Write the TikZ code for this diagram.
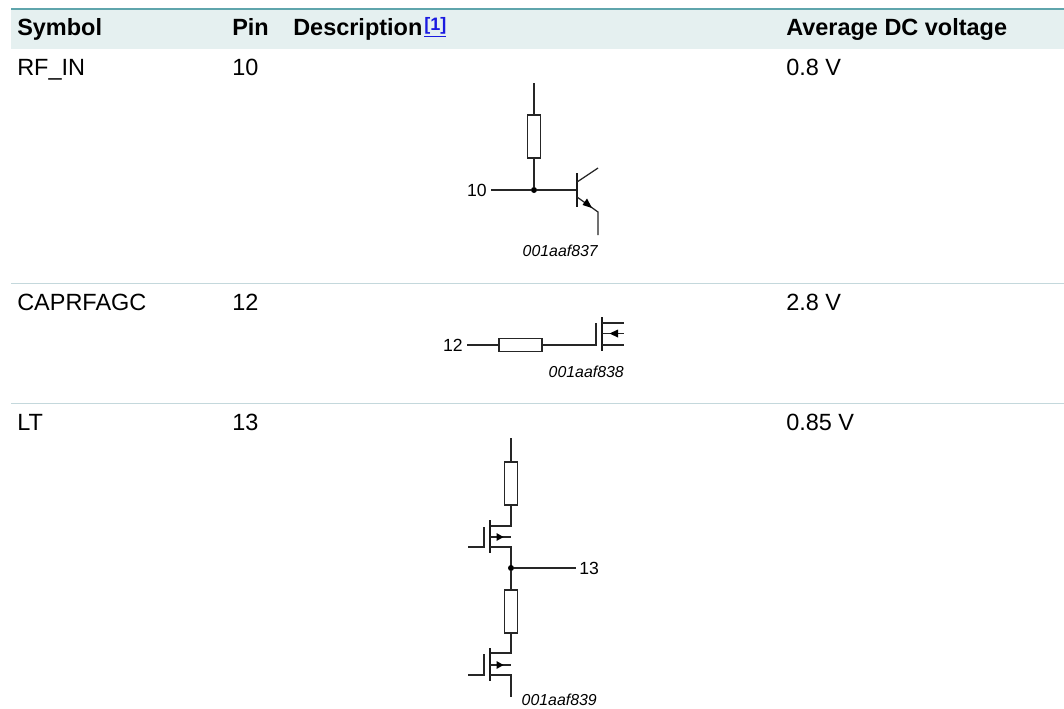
\documentclass[tikz,border=0pt]{standalone}
\usepackage{fontspec}
\setmainfont{Liberation Sans}
\usetikzlibrary{arrows.meta}
\definecolor{headfill}{HTML}{E5F0F0}
\definecolor{headline}{HTML}{5FA5AC}
\definecolor{rowline}{HTML}{C4D8DC}
\definecolor{linkblue}{HTML}{1A1AE0}
\tikzset{
  x=0.75pt,y=-0.75pt,
  txt/.style={inner sep=0pt,anchor=base west,font=\fontsize{17.6pt}{20pt}\selectfont},
  head/.style={txt,font=\fontsize{17.6pt}{20pt}\selectfont\bfseries},
  lab/.style={inner sep=0pt,font=\fontsize{13.2pt}{15pt}\selectfont},
  code/.style={inner sep=0pt,font=\fontsize{11.9pt}{14pt}\selectfont\itshape},
  wire/.style={line width=0.95pt,draw=black!85},
  res/.style={line width=0.95pt,draw=black!85,fill=white},
  bar/.style={line width=2pt,draw=black!90},
  dot/.style={circle,fill=black,inner sep=0pt,minimum size=4.5pt},
  tip/.style={fill=black,draw=none},
}
\begin{document}
\begin{tikzpicture}
\useasboundingbox (0,0) rectangle (1064,708);
\fill[white] (0,0) rectangle (1064,708);
% header band
\fill[headfill] (11,9) rectangle (1064,49);
\draw[headline,line width=0.8pt] (11,9) -- (1064,9);
\draw[rowline,line width=0.7pt] (11,283.5) -- (1064,283.5);
\draw[rowline,line width=0.7pt] (11,403.5) -- (1064,403.5);
% header text
\node[head] (hs) at (17,35) {Symbol};
\node[head] (hp) at (232,35) {Pin};
\node[head] (hd) at (293,35) {Description\kern1.5pt\raisebox{3.6pt}{\fontsize{13.5pt}{15pt}\selectfont\textcolor{linkblue}{\underline{[1]}}}};
\node[head] (ha) at (786,35) {Average DC voltage};
% rows
\node[txt] (s1) at (17,75) {RF\_IN};
\node[txt] (p1) at (232,75) {10};
\node[txt] (v1) at (786,75) {0.8 V};
\node[txt] (s2) at (17,310) {CAPRFAGC};
\node[txt] (p2) at (232,310) {12};
\node[txt] (v2) at (786,310) {2.8 V};
\node[txt] (s3) at (17,430) {LT};
\node[txt] (p3) at (232,430) {13};
\node[txt] (v3) at (786,430) {0.85 V};
% --- RF_IN circuit
\coordinate (a0) at (534,83);
\node[res,draw,minimum width=9.75pt,minimum height=32.25pt,inner sep=0pt] (r1) at (534,136.5) {};
\node[dot] (j1) at (534,190) {};
\node[lab,anchor=east] (l10) at (487,190) {10};
\coordinate (a1) at (491,190);
\coordinate (b1) at (577,190);
\coordinate (c0) at (577,182);
\coordinate (c1) at (598,168);
\coordinate (e0) at (577,197);
\coordinate (e1) at (598,212);
\coordinate (e2) at (598,235);
\draw[wire] (a0) -- (r1.north);
\draw[wire] (r1.south) -- (j1);
\draw[wire] (a1) -- (j1) -- (b1);
\draw[bar] (577,173) -- (577,207);
\draw[wire] (c0) -- (c1);
\draw[wire] (e0) -- (e1) -- (e2);
\fill[tip] (592,208) -- (582.5,205) -- (587,198.5) -- cycle;
\node[code,anchor=base east] (c837) at (598,256) {001aaf837};
% --- CAPRFAGC circuit
\node[lab,anchor=east] (l12) at (463,345) {12};
\coordinate (a2) at (467,345);
\node[res,draw,minimum width=32.25pt,minimum height=9.75pt,inner sep=0pt] (r2) at (520.5,345) {};
\coordinate (g2) at (596,345);
\draw[wire] (a2) -- (r2.west);
\draw[wire] (r2.east) -- (g2) -- (596,323);
\draw[bar] (602,317) -- (602,351);
\draw[wire] (602,323) -- (624,323);
\draw[wire] (602,333.5) -- (624,333.5);
\draw[wire] (602,345) -- (624,345);
\fill[tip] (609.5,333.5) -- (618,329.5) -- (618,337.5) -- cycle;
\node[code,anchor=base east] (c838) at (624,377) {001aaf838};
% --- LT circuit
\coordinate (a3) at (511,438);
\node[res,draw,minimum width=9.75pt,minimum height=32.25pt,inner sep=0pt] (r3) at (511,483.5) {};
\draw[wire] (a3) -- (r3.north);
\draw[wire] (r3.south) -- (511,526) -- (490,526);
\draw[bar] (490,520) -- (490,553);
\draw[wire] (490,537) -- (511,537);
\fill[tip] (503.5,537) -- (496.5,533) -- (496.5,541) -- cycle;
\draw[wire] (490,547) -- (511,547) -- (511,568);
\draw[wire] (468,547) -- (484,547) -- (484,527);
\node[dot] (j3) at (511,568) {};
\node[lab,anchor=west] (l13) at (579,568) {13};
\coordinate (o3) at (576,568);
\draw[wire] (j3) -- (o3);
\node[res,draw,minimum width=9.75pt,minimum height=32.25pt,inner sep=0pt] (r4) at (511,611.5) {};
\draw[wire] (j3) -- (r4.north);
\draw[wire] (r4.south) -- (511,653) -- (490,653);
\draw[bar] (490,648) -- (490,681);
\draw[wire] (490,665) -- (511,665);
\fill[tip] (503.5,665) -- (496.5,661) -- (496.5,669) -- cycle;
\draw[wire] (490,675) -- (511,675) -- (511,697);
\draw[wire] (468,675) -- (484,675) -- (484,654);
\node[code,anchor=base east] (c839) at (597,705.5) {001aaf839};
\end{tikzpicture}
\end{document}
